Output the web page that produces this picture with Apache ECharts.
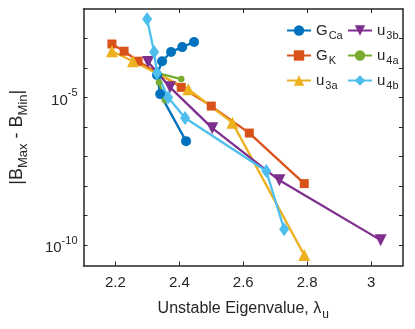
<!DOCTYPE html>
<html>
<head>
<meta charset="utf-8">
<script src="https://cdn.jsdelivr.net/npm/echarts@6/dist/echarts.min.js"></script>
<style>
  html, body { margin: 0; padding: 0; background: #fff; }
  #chart { width: 415px; height: 329px; }
</style>
</head>
<body>
<div id="chart"></div>
<script>
// values
var gCaX = [2.446, 2.409, 2.374, 2.346, 2.330, 2.340, 2.421];
var gCaY = [7.6e-4, 5.1e-4, 3.5e-4, 1.7e-4, 5.8e-5, 1.3e-5, 3.3e-7];
var gKX = [2.189, 2.227, 2.271, 2.406, 2.500, 2.619, 2.791];
var gKY = [6.5e-4, 3.7e-4, 1.7e-4, 2.2e-5, 5.1e-6, 6.2e-7, 1.2e-8];
var u3aX = [2.189, 2.255, 2.428, 2.566, 2.791];
var u3aY = [3.7e-4, 1.7e-4, 1.9e-5, 1.4e-6, 4.5e-11];
var u3bX = [2.302, 2.371, 2.503, 2.713, 3.030];
var u3bY = [1.6e-4, 2.2e-5, 9.1e-7, 1.55e-8, 1.45e-10];
var u4aX = [2.406, 2.330, 2.336, 2.355];
var u4aY = [4.2e-5, 6.8e-5, 3.3e-5, 8.1e-6];
var u4bX = [2.299, 2.321, 2.330, 2.365, 2.418, 2.672, 2.728];
var u4bY = [4.6e-3, 3.5e-4, 6.8e-5, 1.0e-5, 2.0e-6, 3.2e-8, 3.4e-10];

var xTicks = [2.2, 2.4, 2.6, 2.8, 3.0];
var yTicks = [1e-10, 1e-9, 1e-8, 1e-7, 1e-6, 1e-5, 1e-4, 1e-3];
var yLabels = [1e-10, 1e-5];

var names = {
  G_Ca: '{m|G}{s|Ca}', G_K: '{m|G}{s|K}', u_3a: '{m|u}{s|3a}',
  u_3b: '{m|u}{s|3b}', u_4a: '{m|u}{s|4a}', u_4b: '{m|u}{s|4b}'
};

function pairs(xs, ys) {
  return xs.map(function (x, i) { return [x, ys[i]]; });
}

var txt = '#262626';
var font = 'Liberation Sans, Arial, sans-serif';

function mkSeries(name, xs, ys, color, symbol, size, rotate) {
  return {
    name: name,
    type: 'line',
    data: pairs(xs, ys),
    symbol: symbol,
    symbolSize: size,
    symbolRotate: rotate || 0,
    showAllSymbol: true,
    clip: false,
    lineStyle: { color: color, width: 2.3 },
    itemStyle: { color: color, borderWidth: 0 },
    emphasis: { disabled: true },
    animation: false
  };
}

var axLine = { show: true, lineStyle: { color: txt, width: 1.5 } };

var legendBase = {
  orient: 'vertical',
  itemWidth: 24,
  itemHeight: 13,
  itemGap: 7,
  formatter: function (n) { return names[n]; },
  textStyle: {
    color: txt,
    fontFamily: font,
    rich: {
      m: { fontSize: 15, fontFamily: font, color: txt },
      s: { fontSize: 11, fontFamily: font, color: txt, padding: [10, 0, 0, 1] }
    }
  }
};

var myChart = echarts.init(document.getElementById('chart'));
var option = {
  backgroundColor: '#fff',
  animation: false,
  grid: { left: 83.5, right: 12, top: 9, bottom: 63.5 },
  legend: [
    Object.assign({}, legendBase, { left: 281, top: 18, data: ['G_Ca', 'G_K', 'u_3a'] }),
    Object.assign({}, legendBase, { left: 342, top: 18, data: ['u_3b', 'u_4a', 'u_4b'] })
  ],
  xAxis: [
    {
      type: 'value', min: 2.1, max: 3.1,
      axisLine: axLine,
      axisTick: { show: true, inside: true, length: 4, customValues: xTicks, lineStyle: { color: txt } },
      axisLabel: {
        customValues: xTicks, color: txt, fontSize: 15, fontFamily: font, margin: 10,
        formatter: function (v) { return String(+v.toFixed(1)); }
      },
      splitLine: { show: false },
      name: '{m|Unstable Eigenvalue, λ}{s|u}',
      nameLocation: 'middle', nameGap: 31,
      nameTextStyle: {
        rich: {
          m: { fontSize: 16, fontFamily: font, color: txt },
          s: { fontSize: 12, fontFamily: font, color: txt, padding: [12, 0, 0, 1] }
        }
      }
    },
    {
      type: 'value', min: 2.1, max: 3.1, position: 'top',
      axisLine: axLine,
      axisTick: { show: true, inside: true, length: 4, customValues: xTicks, lineStyle: { color: txt } },
      axisLabel: { show: false },
      splitLine: { show: false }
    }
  ],
  yAxis: [
    {
      type: 'log', logBase: 10, min: 2e-11, max: 1e-2,
      axisLine: axLine,
      axisTick: { show: true, inside: true, length: 4, customValues: yTicks, lineStyle: { color: txt } },
      axisLabel: {
        customValues: yLabels, margin: 6,
        formatter: function (v) {
          var e = Math.round(Math.log10(v));
          return '{b|10}{e|' + e + '}';
        },
        rich: {
          b: { fontSize: 15, fontFamily: font, color: txt, padding: [6, 0, 0, 0] },
          e: { fontSize: 11, fontFamily: font, color: txt, padding: [0, 0, 8, 0] }
        }
      },
      splitLine: { show: false },
      name: '|B{s|Max} - B{s|Min}|',
      nameLocation: 'middle', nameGap: 54,
      nameTextStyle: {
        fontSize: 18, fontFamily: font, color: txt,
        rich: {
          s: { fontSize: 13, fontFamily: font, color: txt, padding: [12, 0, 0, 0] }
        }
      }
    },
    {
      type: 'log', logBase: 10, min: 2e-11, max: 1e-2, position: 'right',
      axisLine: axLine,
      axisTick: { show: true, inside: true, length: 4, customValues: yTicks, lineStyle: { color: txt } },
      axisLabel: { show: false },
      splitLine: { show: false }
    }
  ],
  series: [
    mkSeries('G_Ca', gCaX, gCaY, '#0072BD', 'circle', 10),
    mkSeries('G_K', gKX, gKY, '#D95319', 'rect', 9),
    mkSeries('u_3a', u3aX, u3aY, '#EDB120', 'triangle', 12),
    mkSeries('u_3b', u3bX, u3bY, '#7E2F8E', 'triangle', 12, 180),
    mkSeries('u_4a', u4aX, u4aY, '#77AC30', 'circle', 6.5),
    mkSeries('u_4b', u4bX, u4bY, '#4DBEEE', 'diamond', [10, 14])
  ]
};
myChart.setOption(option);
</script>
</body>
</html>
